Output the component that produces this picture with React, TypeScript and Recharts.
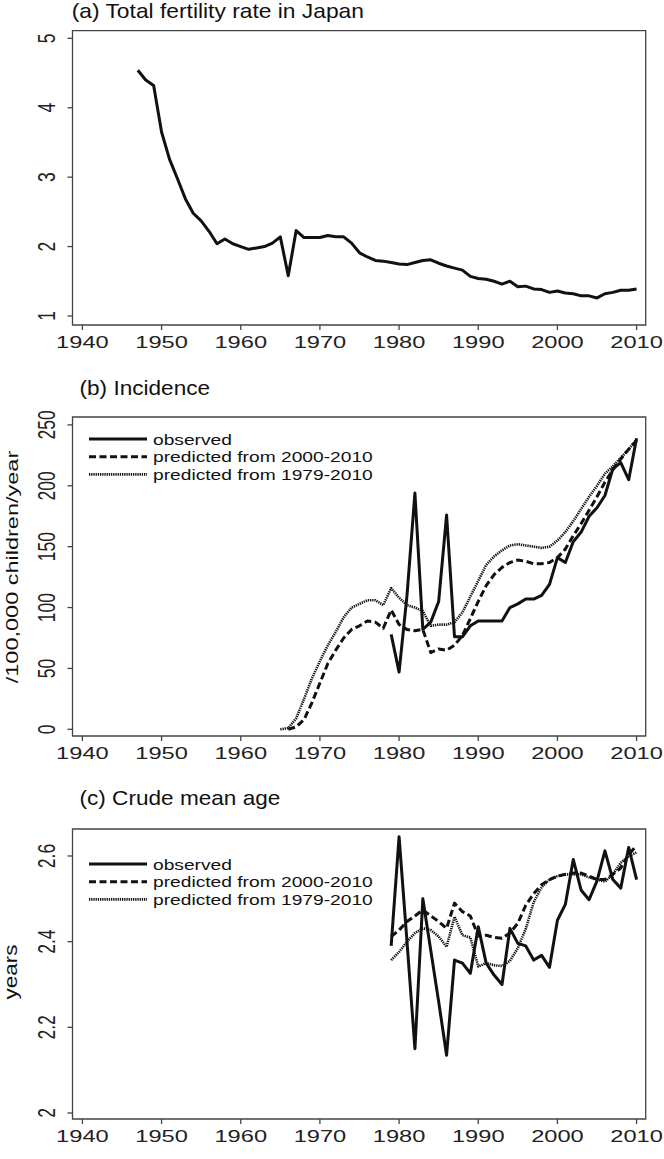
import React from 'react';
import { LineChart, Line, XAxis, YAxis, ReferenceArea, Legend } from 'recharts';

const FONT = '"Liberation Sans", Arial, Helvetica, sans-serif';
const INK = '#111';
const FRAME = '#444';

const X_TICKS = [1940, 1950, 1960, 1970, 1980, 1990, 2000, 2010];
const X_DOMAIN: [number, number] = [1938.75, 2011.15];

// (a) Total fertility rate in Japan
const tfrYears = [
  1947, 1948, 1949, 1950, 1951, 1952, 1953, 1954, 1955, 1956, 1957, 1958, 1959,
  1960, 1961, 1962, 1963, 1964, 1965, 1966, 1967, 1968, 1969, 1970, 1971, 1972,
  1973, 1974, 1975, 1976, 1977, 1978, 1979, 1980, 1981, 1982, 1983, 1984, 1985,
  1986, 1987, 1988, 1989, 1990, 1991, 1992, 1993, 1994, 1995, 1996, 1997, 1998,
  1999, 2000, 2001, 2002, 2003, 2004, 2005, 2006, 2007, 2008, 2009, 2010,
];
const tfrValues = [
  4.54, 4.4, 4.32, 3.65, 3.26, 2.98, 2.69, 2.48, 2.37, 2.22, 2.04, 2.11, 2.04,
  2.0, 1.96, 1.98, 2.0, 2.05, 2.14, 1.58, 2.23, 2.13, 2.13, 2.13, 2.16, 2.14,
  2.14, 2.05, 1.91, 1.85, 1.8, 1.79, 1.77, 1.75, 1.74, 1.77, 1.8, 1.81, 1.76,
  1.72, 1.69, 1.66, 1.57, 1.54, 1.53, 1.5, 1.46, 1.5, 1.42, 1.43, 1.39, 1.38,
  1.34, 1.36, 1.33, 1.32, 1.29, 1.29, 1.26, 1.32, 1.34, 1.37, 1.37, 1.39,
];
const tfrTicks = [1, 2, 3, 4, 5];
const tfrDomain: [number, number] = [0.87, 5.11];

// (b) Incidence
const incYears = [
  1965, 1966, 1967, 1968, 1969, 1970, 1971, 1972, 1973, 1974, 1975, 1976, 1977,
  1978, 1979, 1980, 1981, 1982, 1983, 1984, 1985, 1986, 1987, 1988, 1989, 1990,
  1991, 1992, 1993, 1994, 1995, 1996, 1997, 1998, 1999, 2000, 2001, 2002, 2003,
  2004, 2005, 2006, 2007, 2008, 2009, 2010,
];
const incObserved = [
  null, null, null, null, null, null, null, null, null, null, null, null, null, null,
  78, 47, 110, 194, 82, 88, 105, 176, 76, 76,
  85, 89, 89, 89, 89, 100, 103, 107, 107, 110,
  119, 141, 137, 154, 162, 175, 182, 192, 214, 219,
  205, 239,
];
const incPred2000 = [
  null,
  0, 2, 8, 22, 38, 54, 65, 75, 82, 85, 89, 88, 83,
  98, 86, 82, 81, 82, 63, 66, 65, 69, 77,
  91, 105, 118, 127, 133, 137, 139, 138, 136, 136,
  137, 141, 148, 159, 169, 180, 191, 203, 213, 222, 230, 237,
];
const incPred1979 = [
  0, 1, 9, 25, 42, 56, 69, 80, 92, 100,
  103, 106, 106, 102, 116, 108, 102, 100, 97, 85,
  86, 86, 88, 96, 109, 122, 135, 142, 147, 151,
  152, 151, 150, 149, 150, 155, 162, 171, 181, 191,
  200, 210, 216, 223, 230, 238,
];
const incTicks = [0, 50, 100, 150, 200, 250];
const incDomain: [number, number] = [-5.5, 256.5];

// (c) Crude mean age
const ageYears = [
  1979, 1980, 1981, 1982, 1983, 1984, 1985, 1986, 1987, 1988, 1989, 1990, 1991,
  1992, 1993, 1994, 1995, 1996, 1997, 1998, 1999, 2000, 2001, 2002, 2003, 2004,
  2005, 2006, 2007, 2008, 2009, 2010,
];
const ageObserved = [
  2.39, 2.645, 2.4, 2.15, 2.5, 2.38, 2.26, 2.135, 2.357, 2.35,
  2.326, 2.435, 2.35, 2.322, 2.3, 2.431, 2.396, 2.39, 2.357, 2.368,
  2.34, 2.45, 2.487, 2.592, 2.52, 2.498, 2.542, 2.612, 2.545, 2.525,
  2.62, 2.545,
];
const agePred2000 = [
  2.412, 2.427, 2.447, 2.46, 2.474, 2.46, 2.447, 2.431, 2.49, 2.47,
  2.46, 2.413, 2.415, 2.41, 2.408, 2.42, 2.443, 2.485, 2.512, 2.533,
  2.545, 2.553, 2.557, 2.56, 2.56, 2.553, 2.545, 2.545, 2.557, 2.572,
  2.604, 2.624,
];
const agePred1979 = [
  2.357, 2.376, 2.4, 2.42, 2.431, 2.427, 2.412, 2.388, 2.458, 2.415,
  2.41, 2.342, 2.35, 2.345, 2.343, 2.355, 2.385, 2.43, 2.492, 2.527,
  2.545, 2.553, 2.557, 2.557, 2.557, 2.55, 2.545, 2.54, 2.557, 2.584,
  2.6, 2.608,
];
const ageTicks = [2, 2.2, 2.4, 2.6];
const ageDomain: [number, number] = [1.986, 2.663];

const legendLabels = ['observed', 'predicted from 2000-2010', 'predicted from 1979-2010'];
const titles = ['(a) Total fertility rate in Japan', '(b) Incidence', '(c) Crude mean age'];
const yTitles = ['/100,000 children/year', 'years'];

const seriesStyles = [
  { width: 3, dash: undefined as string | undefined },
  { width: 3, dash: '7 3.5' },
  { width: 2.6, dash: '1.3 0.9' },
];

const tfrData = tfrYears.map((year, i) => ({ year, v0: tfrValues[i] }));
const incData = incYears.map((year, i) => ({
  year,
  v0: incObserved[i],
  v1: incPred2000[i],
  v2: incPred1979[i],
}));
const ageData = ageYears.map((year, i) => ({
  year,
  v0: ageObserved[i],
  v1: agePred2000[i],
  v2: agePred1979[i],
}));

const XTick = (props: any) => {
  const { x, y, payload } = props;
  return (
    <text
      transform={`translate(${x},${y + 18}) scale(1.39,1)`}
      textAnchor="middle"
      fontSize={17}
      fontFamily={FONT}
      fill="#222"
    >
      {payload.value}
    </text>
  );
};

const YTick = (props: any) => {
  const { x, y, payload } = props;
  return (
    <text
      transform={`translate(${x - 12.5},${y}) scale(1.37,1) rotate(-90)`}
      textAnchor="middle"
      fontSize={17.5}
      fontFamily={FONT}
      fill="#222"
    >
      {String(payload.value)}
    </text>
  );
};

const LegendBox = () => (
  <svg width={330} height={56} style={{ display: 'block', overflow: 'visible' }}>
    {legendLabels.map((label, i) => {
      const cy = 9 + i * 17.7;
      const st = seriesStyles[i];
      return (
        <g key={label}>
          <line x1={4} x2={62} y1={cy} y2={cy} stroke={INK} strokeWidth={st.width} strokeDasharray={st.dash} />
          <text
            transform={`translate(68,${cy + 5.5}) scale(1.28,1)`}
            fontSize={15}
            fontFamily={FONT}
            fill="#111"
          >
            {label}
          </text>
        </g>
      );
    })}
  </svg>
);

type PanelProps = {
  top: number;
  height: number;
  marginTop: number;
  marginBottom: number;
  data: any[];
  yDomain: [number, number];
  yTicks: number[];
  nSeries: number;
  legendTop?: number;
};

function Panel({ top, height, marginTop, marginBottom, data, yDomain, yTicks, nSeries, legendTop }: PanelProps) {
  const keys = ['v0', 'v1', 'v2'].slice(0, nSeries);
  return (
    <div style={{ position: 'absolute', left: 0, top }}>
      <LineChart
        width={664}
        height={height}
        data={data}
        margin={{ top: marginTop, right: 18.3, bottom: marginBottom, left: 0 }}
      >
        <XAxis
          dataKey="year"
          type="number"
          domain={X_DOMAIN}
          ticks={X_TICKS}
          allowDataOverflow
          axisLine={false}
          tickSize={5}
          tickMargin={0}
          tickLine={{ stroke: FRAME, strokeWidth: 1.3 }}
          tick={XTick}
          height={40}
          interval={0}
        />
        <YAxis
          type="number"
          domain={yDomain}
          ticks={yTicks}
          allowDataOverflow
          axisLine={false}
          width={72.5}
          tickSize={5}
          tickMargin={0}
          tickLine={{ stroke: FRAME, strokeWidth: 1.3 }}
          tick={YTick}
          interval={0}
        />
        <ReferenceArea
          x1={X_DOMAIN[0]}
          x2={X_DOMAIN[1]}
          y1={yDomain[0]}
          y2={yDomain[1]}
          fill="none"
          fillOpacity={0}
          stroke={FRAME}
          strokeWidth={1.3}
          ifOverflow="visible"
        />
        {keys.map((k, i) => (
          <Line
            key={k}
            dataKey={k}
            type="linear"
            stroke={INK}
            strokeWidth={seriesStyles[i].width}
            strokeDasharray={seriesStyles[i].dash}
            strokeLinejoin="round"
            dot={false}
            activeDot={false}
            isAnimationActive={false}
            connectNulls={false}
          />
        ))}
        {legendTop !== undefined && (
          <Legend
            layout="vertical"
            align="center"
            verticalAlign="middle"
            content={() => <LegendBox />}
            wrapperStyle={{ position: 'absolute', left: 85, top: legendTop, width: 330, height: 56 }}
          />
        )}
      </LineChart>
    </div>
  );
}

export default function App() {
  return (
    <div style={{ position: 'absolute', left: 0, top: 0, width: 664, height: 1159, background: '#fff', overflow: 'hidden' }}>
      <Panel top={0} height={370} marginTop={30.7} marginBottom={5} data={tfrData} yDomain={tfrDomain} yTicks={tfrTicks} nSeries={1} />
      <Panel top={380} height={400} marginTop={37} marginBottom={4} data={incData} yDomain={incDomain} yTicks={incTicks} nSeries={3} legendTop={50} />
      <Panel top={790} height={369} marginTop={39} marginBottom={0} data={ageData} yDomain={ageDomain} yTicks={ageTicks} nSeries={3} legendTop={65} />
      <svg width={664} height={1159} style={{ position: 'absolute', left: 0, top: 0, pointerEvents: 'none' }}>
        <text transform="translate(71.7,18.3) scale(1.14,1)" fontSize={20} fontFamily={FONT} fill="#111">{titles[0]}</text>
        <text transform="translate(79.5,395) scale(1.13,1)" fontSize={20} fontFamily={FONT} fill="#111">{titles[1]}</text>
        <text transform="translate(79.5,805) scale(1.13,1)" fontSize={20} fontFamily={FONT} fill="#111">{titles[2]}</text>
        <text transform="translate(17.5,567) scale(0.72,1) rotate(-90)" textAnchor="middle" fontSize={23.5} fontFamily={FONT} fill="#111">{yTitles[0]}</text>
        <text transform="translate(17,972) scale(0.85,1) rotate(-90)" textAnchor="middle" fontSize={22.5} fontFamily={FONT} fill="#111">{yTitles[1]}</text>
      </svg>
    </div>
  );
}
